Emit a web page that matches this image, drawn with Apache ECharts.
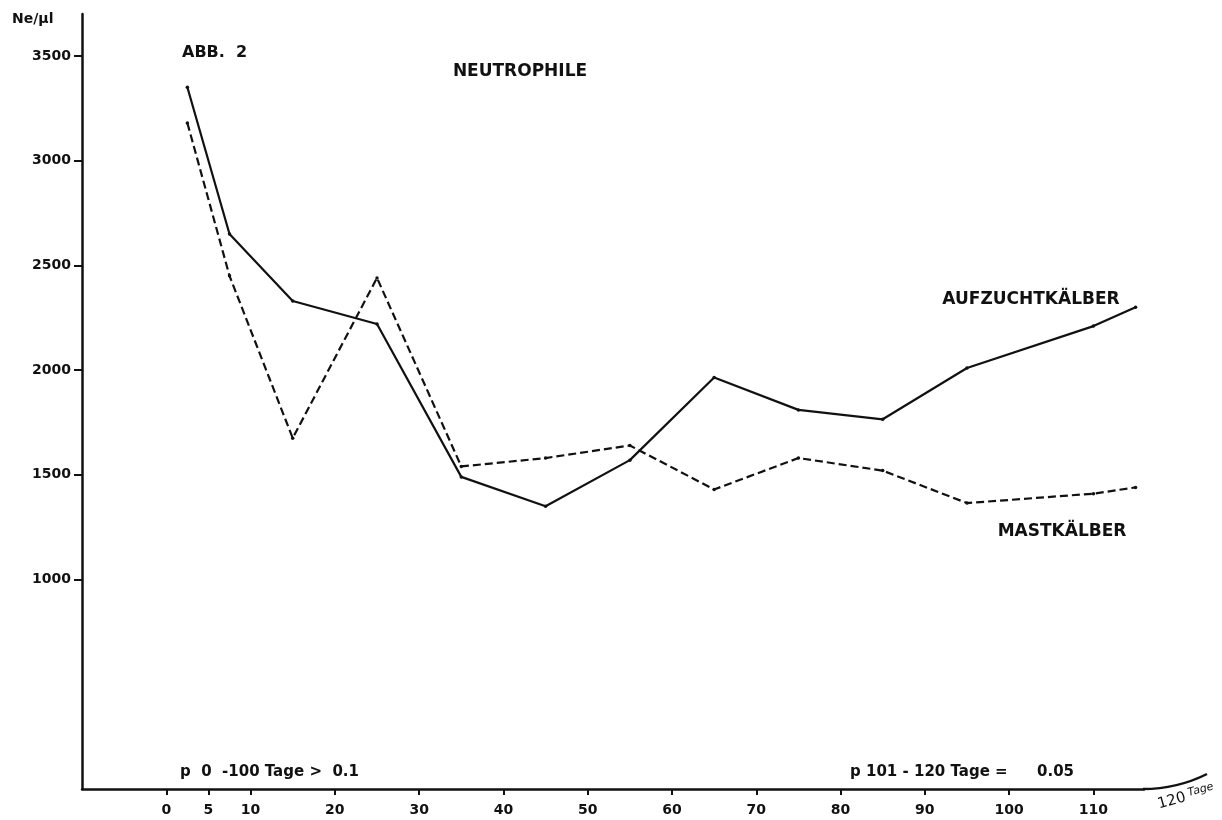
<!DOCTYPE html>
<html>
<head>
<meta charset="utf-8">
<script src="https://cdn.jsdelivr.net/npm/echarts@6/dist/echarts.min.js"></script>
<style>html,body{margin:0;padding:0;background:#fff}#c{width:1222px;height:820px}</style>
</head>
<body>
<div id="c"></div>
<script>
// Days (x) and neutrophil counts (Ne/µl)
const days = [2.5, 7.5, 15, 25, 35, 45, 55, 65, 75, 85, 95, 110, 115];
const aufzucht = [3350, 2650, 2330, 2220, 1490, 1350, 1570, 1965, 1810, 1765, 2010, 2210, 2300];
const mast = [3180, 2450, 1675, 2440, 1540, 1580, 1640, 1430, 1580, 1520, 1365, 1410, 1440];
const xTicks = [0, 5, 10, 20, 30, 40, 50, 60, 70, 80, 90, 100, 110];
const yTicks = [1000, 1500, 2000, 2500, 3000, 3500];

const FONT = 'DejaVu Sans';
const chart = echarts.init(document.getElementById('c'), null, {renderer: 'canvas'});
const pair = arr => days.map((d, i) => [d, arr[i]]);

chart.setOption({
  animation: false,
  backgroundColor: '#fff',
  grid: {left: 82, right: 78, top: 14, bottom: 31, containLabel: false},
  xAxis: {
    type: 'value', min: -10, max: 116,
    axisLine: {show: true, onZero: false, lineStyle: {color: '#111', width: 2.5}},
    axisTick: {show: true, customValues: xTicks, inside: false, length: 6, lineStyle: {color: '#111', width: 2}},
    axisLabel: {customValues: xTicks, margin: 14, color: '#111', fontFamily: FONT, fontSize: 14, fontWeight: 'bold',
      formatter: v => String(v)},
    splitLine: {show: false}
  },
  yAxis: {
    type: 'value', min: 0, max: 3700,
    axisLine: {show: true, onZero: false, lineStyle: {color: '#111', width: 2.5}},
    axisTick: {show: true, customValues: yTicks, length: 8, lineStyle: {color: '#111', width: 2}},
    axisLabel: {customValues: yTicks, margin: 11, color: '#111', fontFamily: FONT, fontSize: 14, fontWeight: 'bold',
      formatter: v => String(v)},
    splitLine: {show: false}
  },
  series: [
    {
      name: 'AUFZUCHTKÄLBER', type: 'line', data: pair(aufzucht), clip: false,
      symbol: 'circle', symbolSize: 3.5, itemStyle: {color: '#111'},
      lineStyle: {color: '#111', width: 2.2, type: 'solid'}
    },
    {
      name: 'MASTKÄLBER', type: 'line', data: pair(mast), clip: false,
      symbol: 'circle', symbolSize: 3.5, itemStyle: {color: '#111'},
      lineStyle: {color: '#111', width: 2.2, type: [8, 4]}
    }
  ],
  graphic: [
    {type: 'bezierCurve', shape: {x1: 1143, y1: 789, cpx1: 1165, cpy1: 789, cpx2: 1185, cpy2: 785, x2: 1207, y2: 774},
      style: {stroke: '#111', lineWidth: 2.5, fill: null}},
    {type: 'text', x: 12, y: 19, style: {text: 'Ne/µl', font: 'bold 14px ' + FONT, fill: '#111', textVerticalAlign: 'middle'}},
    {type: 'text', x: 182, y: 53, style: {text: 'ABB.  2', font: 'bold 16px ' + FONT, fill: '#111', textVerticalAlign: 'middle'}},
    {type: 'text', x: 520, y: 72, style: {text: 'NEUTROPHILE', font: 'bold 17px ' + FONT, fill: '#111', textAlign: 'center', textVerticalAlign: 'middle'}},
    {type: 'text', x: 1031, y: 300, style: {text: 'AUFZUCHTKÄLBER', font: 'bold 17px ' + FONT, fill: '#111', textAlign: 'center', textVerticalAlign: 'middle'}},
    {type: 'text', x: 1062, y: 532, style: {text: 'MASTKÄLBER', font: 'bold 17px ' + FONT, fill: '#111', textAlign: 'center', textVerticalAlign: 'middle'}},
    {type: 'text', x: 180, y: 772, style: {text: 'p  0  -100 Tage >  0.1', font: 'bold 15px ' + FONT, fill: '#111', textVerticalAlign: 'middle'}},
    {type: 'text', x: 850, y: 772, style: {text: 'p 101 - 120 Tage =', font: 'bold 15px ' + FONT, fill: '#111', textVerticalAlign: 'middle'}},
    {type: 'text', x: 1037, y: 772, style: {text: '0.05', font: 'bold 15px ' + FONT, fill: '#111', textVerticalAlign: 'middle'}},
    {type: 'text', x: 1186, y: 797, rotation: 0.27, style: {
      text: '{a|120} {b|Tage}', textAlign: 'center', textVerticalAlign: 'middle', fill: '#111',
      rich: {a: {fontFamily: FONT, fontSize: 15, fontWeight: 'normal', fill: '#111'},
             b: {fontFamily: FONT, fontSize: 11, fontStyle: 'italic', fill: '#111', verticalAlign: 'top', padding: [0, 0, 6, 0]}}
    }}
  ]
});
</script>
</body>
</html>
